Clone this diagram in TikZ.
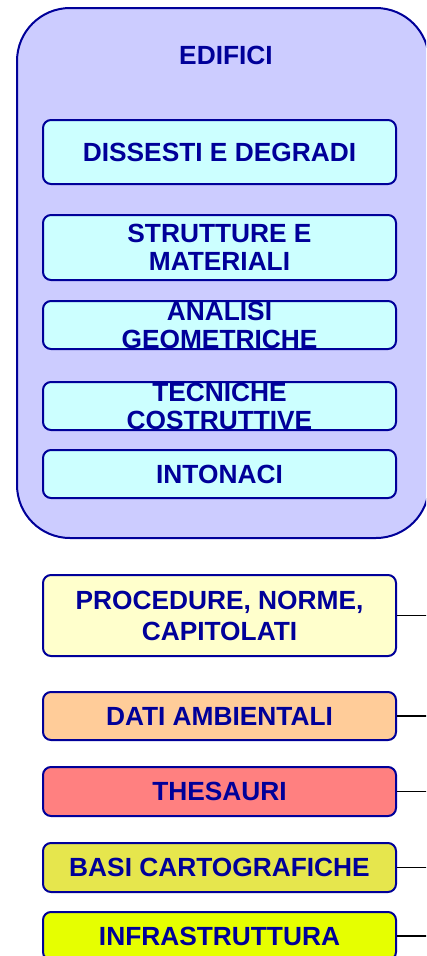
\documentclass[tikz,border=0pt]{standalone}
\usepackage{fontspec}
\setmainfont{Liberation Sans}
\definecolor{navy}{HTML}{000099}
\definecolor{lavender}{HTML}{CCCCFF}
\definecolor{cyanlight}{HTML}{CCFFFF}
\definecolor{cream}{HTML}{FFFFCC}
\definecolor{peach}{HTML}{FFCC99}
\definecolor{salmon}{HTML}{FF8080}
\definecolor{olivey}{HTML}{E6E64D}
\definecolor{limey}{HTML}{E6FF00}
\tikzset{
  container/.style={draw=navy, line width=2pt, fill=lavender, rounded corners=53pt,
    minimum width=412pt, minimum height=530pt, inner sep=0pt},
  titletext/.style={text=navy, font=\bfseries\fontsize{26.3}{28}\selectfont, inner sep=0pt},
  subbox/.style={draw=navy, line width=2pt, rounded corners=8pt, minimum width=353pt,
    inner sep=0pt, text=navy, align=center, font=\bfseries\fontsize{26.3}{28}\selectfont},
  conn/.style={draw=black, line width=1.5pt}
}
\begin{document}
\begin{tikzpicture}[x=1pt,y=-1pt]
\useasboundingbox (0,0) rectangle (426,956);
\clip (0,0) rectangle (426,956);
\fill[white] (0,0) rectangle (426,956);
\node[container] (edifici) at (223,273) {};
\node[titletext] (title) at (226,55) {EDIFICI};
\node[subbox, fill=cyanlight, minimum height=64pt] (diss) at (219.5,152) {DISSESTI E DEGRADI};
\node[subbox, fill=cyanlight, minimum height=65pt] (strut) at (219.5,247.5) {STRUTTURE E\\MATERIALI};
\node[subbox, fill=cyanlight, minimum height=48pt] (anal) at (219.5,325) {ANALISI\\GEOMETRICHE};
\node[subbox, fill=cyanlight, minimum height=48pt] (tecn) at (219.5,406) {TECNICHE\\COSTRUTTIVE};
\node[subbox, fill=cyanlight, minimum height=48pt] (inton) at (219.5,474) {INTONACI};
\node[subbox, fill=cream, minimum height=81pt, font=\bfseries\fontsize{26.3}{31}\selectfont] (proc) at (219.5,615.5) {PROCEDURE, NORME,\\CAPITOLATI};
\node[subbox, fill=peach, minimum height=48pt] (dati) at (219.5,716) {DATI AMBIENTALI};
\node[subbox, fill=salmon, minimum height=49pt] (thes) at (219.5,791.5) {THESAURI};
\node[subbox, fill=olivey, minimum height=49pt] (basi) at (219.5,867.5) {BASI CARTOGRAFICHE};
\node[subbox, fill=limey, minimum height=48pt] (infra) at (219.5,936) {INFRASTRUTTURA};
\coordinate (e1) at (440,615.5);
\coordinate (e2) at (440,716);
\coordinate (e3) at (440,791.5);
\coordinate (e4) at (440,867.5);
\coordinate (e5) at (440,936);
\draw[conn] (proc.east) -- (e1);
\draw[conn] (dati.east) -- (e2);
\draw[conn] (thes.east) -- (e3);
\draw[conn] (basi.east) -- (e4);
\draw[conn] (infra.east) -- (e5);
\end{tikzpicture}
\end{document}
